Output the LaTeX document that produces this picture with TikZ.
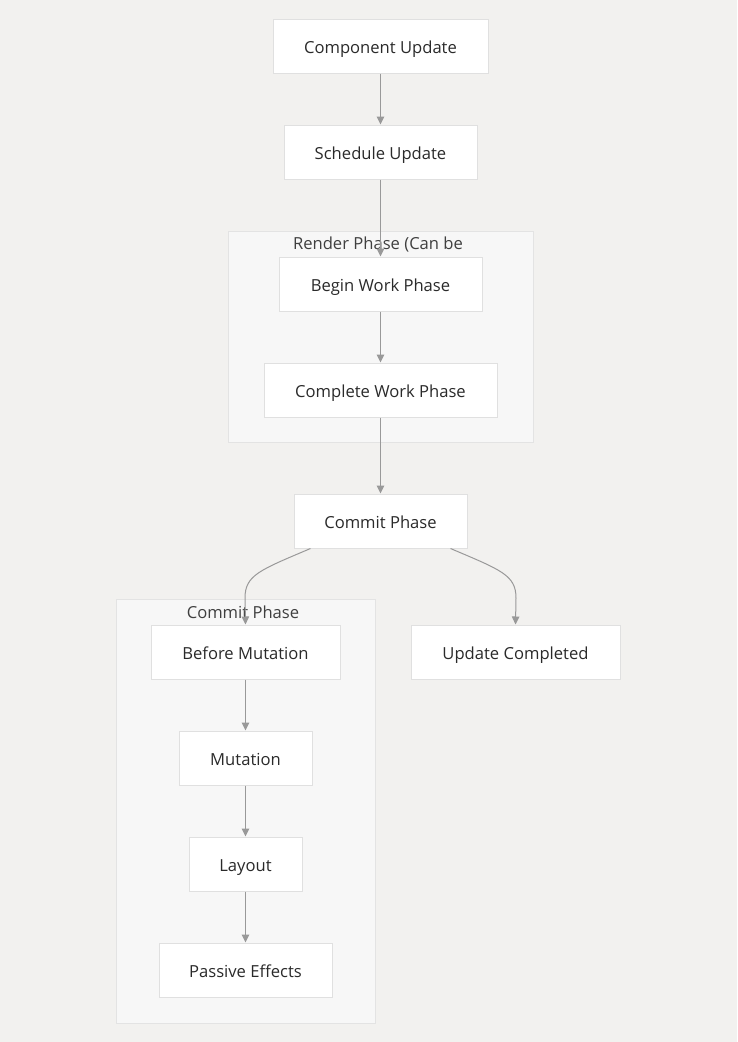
\documentclass[tikz,border=0pt]{standalone}
\usepackage{fontspec}
\setmainfont{Open Sans}
\usetikzlibrary{arrows.meta}
\definecolor{bg}{HTML}{F2F1EF}
\definecolor{clfill}{HTML}{F7F7F7}
\definecolor{clline}{HTML}{E3E3E3}
\definecolor{boxline}{HTML}{E0E0E0}
\definecolor{edge}{HTML}{999999}
\definecolor{txt}{HTML}{2A2A2A}
\tikzset{
  box/.style={draw=boxline, fill=white, line width=1pt, minimum height=54pt, inner sep=0pt, text=txt, text height=14.5pt, text depth=0pt, font=\fontsize{16.6}{19}\selectfont},
  cluster/.style={draw=clline, fill=clfill, line width=1pt},
  cltitle/.style={text=txt!90!white, font=\fontsize{16.6}{19}\selectfont, inner sep=0pt, text height=14.5pt, text depth=0pt},
  conn/.style={draw=edge, line width=1pt, -{Triangle[length=8pt,width=7.5pt]}}
}
\begin{document}
\begin{tikzpicture}[x=1pt,y=-1pt]
\fill[bg] (0,0) rectangle (737,1042);
\useasboundingbox (0,0) rectangle (737,1042);
% clusters
\draw[cluster] (228,231) rectangle (533,442);
\node[cltitle] (rtitle) at (378,242) {Render Phase (Can be};
\draw[cluster] (116,599) rectangle (375,1023);
\node[cltitle] (ctitle) at (243,611) {Commit Phase};
% nodes
\node[box, minimum width=215pt] (cu) at (380.5,46) {Component Update};
\node[box, minimum width=193pt] (su) at (380.5,152) {Schedule Update};
\node[box, minimum width=203pt] (bw) at (380.5,284) {Begin Work Phase};
\node[box, minimum width=233pt] (cw) at (380.5,390) {Complete Work Phase};
\node[box, minimum width=173pt] (cp) at (380.5,521) {Commit Phase};
\node[box, minimum width=189pt] (bm) at (245.5,652) {Before Mutation};
\node[box, minimum width=209pt] (uc) at (515.5,652) {Update Completed};
\node[box, minimum width=133pt] (mu) at (245.5,758) {Mutation};
\node[box, minimum width=113pt] (la) at (245.5,864) {Layout};
\node[box, minimum width=173pt] (pe) at (245.5,970) {Passive Effects};
% edges
\draw[conn] (cu) -- (su);
\draw[conn] (su) -- (bw);
\draw[conn] (bw) -- (cw);
\draw[conn] (cw) -- (cp);
\draw[conn] (cp.south) ++(-70,0) coordinate (cpl) (cpl) .. controls (260,570) and (245,575) .. (245,598) -- (bm.north);
\draw[conn] (cp.south) ++(70,0) coordinate (cpr) (cpr) .. controls (501,570) and (516,575) .. (516,598) -- (uc.north);
\draw[conn] (bm) -- (mu);
\draw[conn] (mu) -- (la);
\draw[conn] (la) -- (pe);
\end{tikzpicture}
\end{document}
